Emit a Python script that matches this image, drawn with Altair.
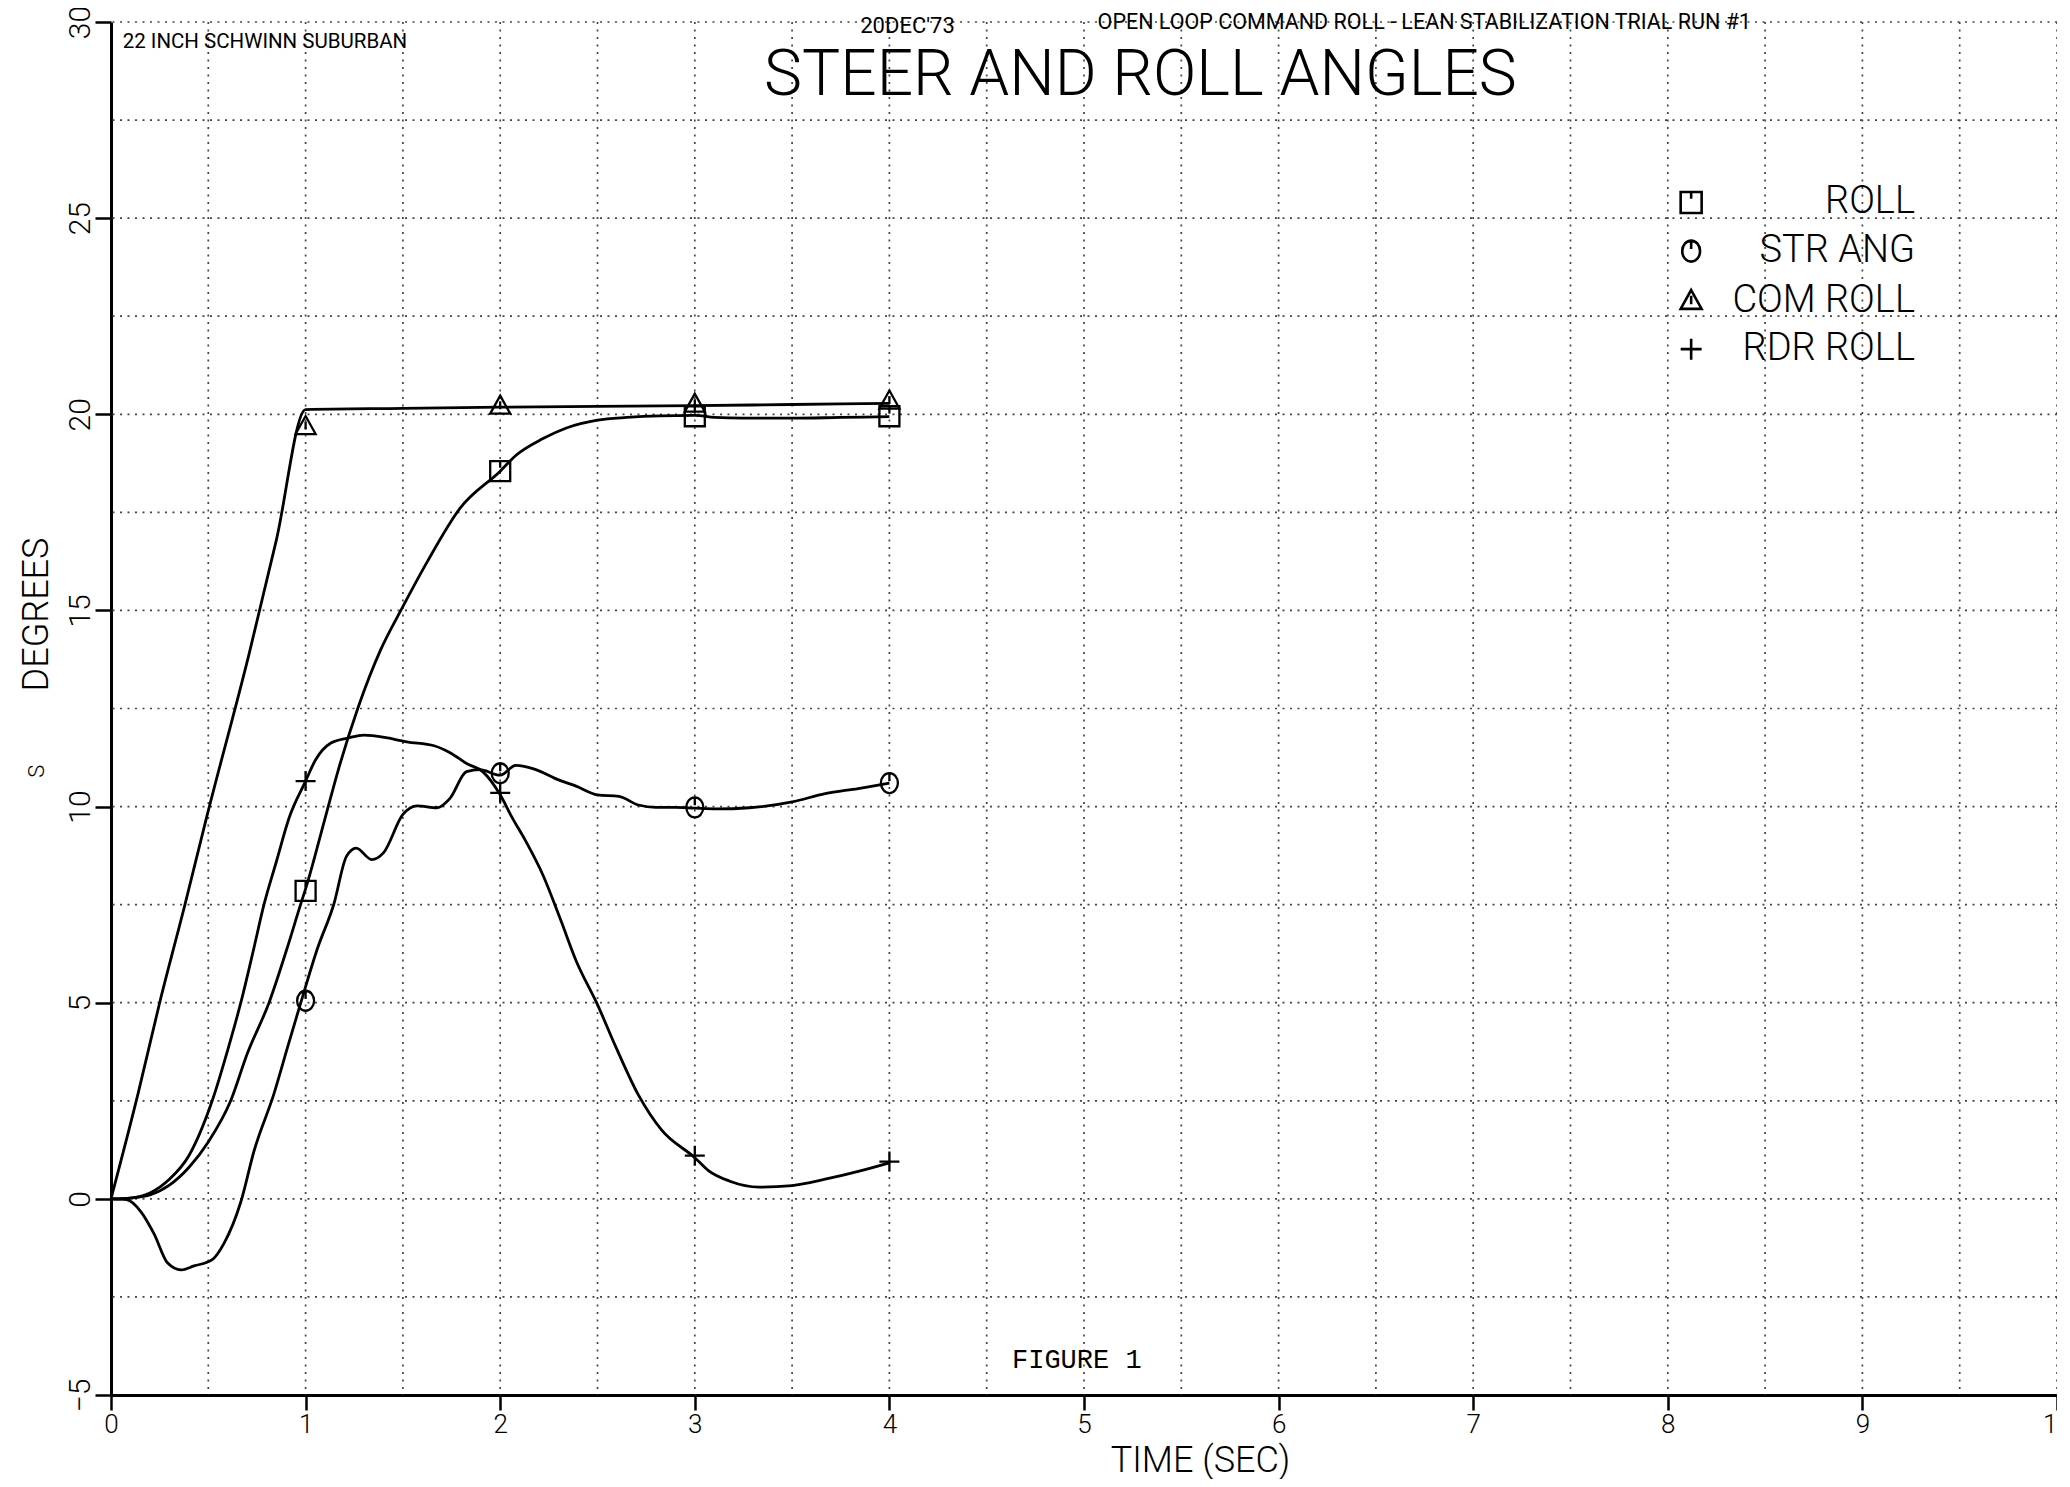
import altair as alt
import pandas as pd

# ---------------- data ----------------
series_names = ["ROLL", "STR ANG", "COM ROLL", "RDR ROLL"]

roll_x = [0, 0.1, 0.2, 0.3, 0.4, 0.5, 0.615, 0.7, 0.812, 0.912, 0.974, 1.0, 1.1, 1.166, 1.268, 1.386,
          1.497, 1.624, 1.793, 2.0, 2.08, 2.22, 2.34, 2.5, 2.65, 2.82, 3.0, 3.1, 3.25, 3.5, 3.75, 4.0]
roll_y = [0, 0.02, 0.1, 0.35, 0.8, 1.45, 2.5, 3.7, 5.0, 6.5, 7.5, 7.9, 9.7, 10.9, 12.5, 14.0,
          15.07, 16.23, 17.6, 18.55, 18.95, 19.38, 19.65, 19.85, 19.92, 19.96, 19.97, 19.92, 19.9, 19.9, 19.92, 19.94]

str_x = [0, 0.08, 0.154, 0.222, 0.29, 0.36, 0.427, 0.52, 0.58, 0.667, 0.735, 0.838, 0.906, 0.974, 1.06,
         1.145, 1.21, 1.26, 1.34, 1.40, 1.5, 1.573, 1.675, 1.742, 1.827, 1.895, 2.0, 2.08, 2.18, 2.3,
         2.39, 2.5, 2.61, 2.71, 2.8, 2.9, 3.0, 3.11, 3.28, 3.5, 3.67, 3.84, 4.0]
str_y = [0, -0.02, -0.33, -0.9, -1.63, -1.81, -1.71, -1.55, -1.14, -0.08, 1.22, 2.69, 3.84, 4.98, 6.37,
         7.51, 8.73, 8.94, 8.65, 8.82, 9.8, 10.02, 9.97, 10.21, 10.89, 10.94, 10.8, 11.05, 10.95, 10.68,
         10.52, 10.3, 10.26, 10.04, 9.98, 9.98, 9.96, 9.94, 9.97, 10.12, 10.33, 10.46, 10.6]

com_x = [0, 0.14, 0.25, 0.38, 0.49, 0.71, 0.85, 1.0, 1.5, 2.0, 2.5, 3.0, 3.5, 4.0]
com_y = [0, 2.7, 5.0, 7.5, 9.7, 13.9, 16.8, 20.12, 20.15, 20.18, 20.2, 20.22, 20.25, 20.28]

rdr_x = [0, 0.1, 0.2, 0.3, 0.4, 0.45, 0.52, 0.6, 0.667, 0.73, 0.786, 0.85, 0.915, 1.0, 1.05, 1.13, 1.22,
         1.3, 1.42, 1.52, 1.66, 1.74, 1.83, 1.91, 2.0, 2.06, 2.13, 2.22, 2.31, 2.39, 2.5, 2.59, 2.71,
         2.83, 3.0, 3.07, 3.18, 3.33, 3.5, 3.67, 3.84, 4.0]
rdr_y = [0, 0.02, 0.15, 0.5, 1.1, 1.6, 2.5, 3.8, 5.0, 6.3, 7.5, 8.6, 9.71, 10.65, 11.18, 11.62, 11.75,
         11.82, 11.75, 11.65, 11.55, 11.38, 11.09, 10.89, 10.3, 9.73, 9.13, 8.25, 7.12, 6.07, 4.95, 3.92,
         2.65, 1.75, 1.05, 0.72, 0.45, 0.3, 0.34, 0.5, 0.7, 0.92]

marker_x = [1, 2, 3, 4]
roll_mk = [7.85, 18.55, 19.95, 19.95]
str_mk = [5.05, 10.85, 9.98, 10.6]
com_mk = [19.7, 20.22, 20.27, 20.35]
rdr_mk = [10.65, 10.35, 1.1, 0.95]

x_ticks = [0, 1, 2, 3, 4, 5, 6, 7, 8, 9, 10]
y_ticks = [-5, 0, 5, 10, 15, 20, 25, 30]
grid_x = [0.5, 1, 1.5, 2, 2.5, 3, 3.5, 4, 4.5, 5, 5.5, 6, 6.5, 7, 7.5, 8, 8.5, 9, 9.5, 10]
grid_y = [-2.5, 0, 2.5, 5, 7.5, 10, 12.5, 15, 17.5, 20, 22.5, 25, 27.5, 30]

# ---------------- tables ----------------
curves = [(roll_x, roll_y), (str_x, str_y), (com_x, com_y), (rdr_x, rdr_y)]
rows = []
for name, (cx, cy) in zip(series_names, curves):
    for i, (a, b) in enumerate(zip(cx, cy)):
        rows.append({"series": name, "x": a, "y": b, "order": i})
line_df = pd.DataFrame(rows)

mk_rows = []
for name, vals in zip(series_names, [roll_mk, str_mk, com_mk, rdr_mk]):
    for a, b in zip(marker_x, vals):
        mk_rows.append({"series": name, "x": a, "y": b})
mk_df = pd.DataFrame(mk_rows)

legend_sym_x = 8.12
legend_txt_x = 9.27
legend_rows_y = [25.4, 24.16, 22.9, 21.66]
leg_df = pd.DataFrame({"series": series_names, "xs": [legend_sym_x] * 4,
                       "xt": [legend_txt_x] * 4, "y": legend_rows_y})

# ---------------- styles ----------------
W, H = 1946, 1373
FONT = "Roboto, Liberation Sans, sans-serif"
MONO = "Liberation Mono, Courier New, monospace"
xs = alt.Scale(domain=[0, 10], nice=False, zero=False)
ys = alt.Scale(domain=[-5, 30], nice=False, zero=False)

shape_paths = [
    "M-1,-1H1V1H-1Z M0,-1V-0.35",
    "M-0.85,0A0.85,1,0,1,0,0.85,0A0.85,1,0,1,0,-0.85,0Z M0,-1V-0.2",
    "M0,-1L1,0.8H-1Z M0,-0.45V0.35",
    "M-1,0H1M0,-1V1",
]
shape_scale = alt.Scale(domain=series_names, range=shape_paths)

x_axis = alt.Axis(values=x_ticks, grid=False, tickSize=15, tickWidth=2.5, tickColor="black",
                  domainColor="black", domainWidth=3, labelFont=FONT, labelFontSize=26,
                  labelFontWeight=300, labelColor="black", labelPadding=1, labelFlush=False,
                  labelOverlap=False, title="TIME (SEC)", titleFont=FONT, titleFontSize=36,
                  titleFontWeight=300, titleColor="black", titleX=1089, titleY=76,
                  titleAlign="center", titleBaseline="alphabetic")
y_axis = alt.Axis(values=y_ticks, grid=False, tickSize=16, tickWidth=2.5, tickColor="black",
                  domainColor="black", domainWidth=3, labelFont=FONT, labelFontSize=30,
                  labelFontWeight=300, labelColor="black", labelPadding=6, labelFlush=False,
                  labelOverlap=False, labelAngle=270, labelAlign="center",
                  labelBaseline="alphabetic", title="DEGREES", titleFont=FONT, titleFontSize=36,
                  titleFontWeight=300, titleColor="black", titleAngle=270, titleX=-75, titleY=592,
                  titleAlign="center", titleBaseline="middle")


def X(field="x"):
    return alt.X(f"{field}:Q", scale=xs, axis=x_axis)


def Y(field="y"):
    return alt.Y(f"{field}:Q", scale=ys, axis=y_axis)


grid_v = alt.Chart(pd.DataFrame({"gx": grid_x})).mark_rule(
    color="#444444", strokeWidth=1.7, strokeDash=[2, 5.5]).encode(x=X("gx"))
grid_h = alt.Chart(pd.DataFrame({"gy": grid_y})).mark_rule(
    color="#444444", strokeWidth=1.7, strokeDash=[2, 5.5]).encode(y=Y("gy"))

lines = alt.Chart(line_df).mark_line(color="black", strokeWidth=2.8, interpolate="monotone").encode(
    x=X(), y=Y(), detail="series:N", order="order:Q")

markers = alt.Chart(mk_df).mark_point(filled=False, color="black", strokeWidth=2.3, size=400,
                                      opacity=1).encode(
    x=X(), y=Y(), shape=alt.Shape("series:N", scale=shape_scale, legend=None))

leg_sym = alt.Chart(leg_df).mark_point(filled=False, color="black", strokeWidth=2.6, size=440,
                                       opacity=1).encode(
    x=X("xs"), y=Y(), shape=alt.Shape("series:N", scale=shape_scale, legend=None))
leg_txt = alt.Chart(leg_df).mark_text(font=FONT, fontSize=38, fontWeight=300, align="right",
                                      baseline="middle", color="black").encode(
    x=X("xt"), y=Y(), text="series:N")


def note(text, x, y, **kw):
    df = pd.DataFrame({"t": [text], "x": [x], "y": [y]})
    return alt.Chart(df).mark_text(color="black", **kw).encode(x=X(), y=Y(), text="t:N")


title = note("STEER AND ROLL ANGLES", 5.29, 28.14, font=FONT, fontSize=64, fontWeight=300,
             align="center", baseline="alphabetic")
sub1 = note("22 INCH SCHWINN SUBURBAN", 0.06, 29.34, font=FONT, fontSize=20.5, align="left",
            baseline="alphabetic")
sub2 = note("20DEC'73", 3.85, 29.72, font=FONT, fontSize=22, align="left", baseline="alphabetic")
sub3 = note("OPEN LOOP COMMAND ROLL - LEAN STABILIZATION TRIAL RUN #1", 5.07, 29.82, font=FONT,
            fontSize=21.5, align="left", baseline="alphabetic")
fig = note("FIGURE 1", 4.63, -4.3, font=MONO, fontSize=27, align="left", baseline="alphabetic")
stray = note("S", -0.38, 10.9, font=FONT, fontSize=22, fontWeight=300, align="center",
             baseline="middle", angle=270)

chart = alt.layer(grid_v, grid_h, lines, markers, leg_sym, leg_txt, title, sub1, sub2, sub3, fig, stray
                  ).properties(
    width=W, height=H,
    autosize=alt.AutoSizeParams(type="none"),
    padding={"left": 103, "top": 14, "right": 0, "bottom": 84},
    background="white",
).configure_view(strokeWidth=0)

chart.save("out.html", embed_options={"renderer": "svg", "actions": False})
